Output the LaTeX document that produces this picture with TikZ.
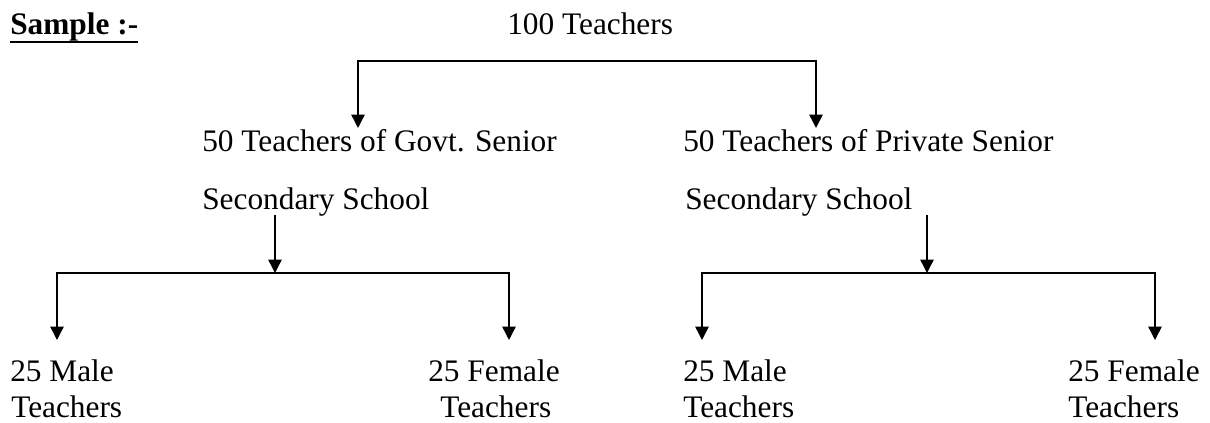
\documentclass[tikz,border=0pt]{standalone}
\usepackage{fontspec}
\setmainfont{Liberation Serif}
\usepackage{tikz}
\usetikzlibrary{arrows.meta,positioning,calc}
\tikzset{
  txt/.style={inner sep=0pt, anchor=base west,
    font=\fontsize{23.5}{28}\selectfont},
  brancharrow/.style={
    -{Triangle[width=10pt,length=10pt]}, line width=1.1pt, color=black
  },
}
\begin{document}
\begin{tikzpicture}[x=0.75pt, y=-0.75pt]
  \useasboundingbox (0,0) rectangle (1210,423);
  % heading
  \node[txt, font=\fontsize{23.5}{28}\selectfont\bfseries] at (10,35) (sample) {Sample :-};
  \draw[line width=2pt] ([yshift=-5.2pt]sample.base west) -- ([yshift=-5.2pt]sample.base east);
  \node[txt] at (507,35) (root) {100 Teachers};
  % second level
  \node[txt] at (202,152) (govt) {50 Teachers of Govt. Senior};
  \node[txt] at (202,210) (govtsub) {Secondary School};
  \node[txt] at (683,152) (pvt) {50 Teachers of Private Senior};
  \node[txt] at (685,210) (pvtsub) {Secondary School};
  % third level
  \node[txt] at (10,382) (gmale) {25 Male};
  \node[txt] at (11,418) (gmalesub) {Teachers};
  \node[txt] at (428,382) (gfemale) {25 Female};
  \node[txt] at (440,418) (gfemalesub) {Teachers};
  \node[txt] at (683,382) (pmale) {25 Male};
  \node[txt] at (683,418) (pmalesub) {Teachers};
  \node[txt] at (1068,382) (pfemale) {25 Female};
  \node[txt] at (1068,418) (pfemalesub) {Teachers};
  % branch points
  \coordinate (split) at (587,61);
  \coordinate (govtin) at (358,128);
  \coordinate (pvtin) at (816,128);
  \coordinate (govtout) at (275,215);
  \coordinate (gsplit) at (275,273);
  \coordinate (pvtout) at (927,215);
  \coordinate (psplit) at (927,273);
  \coordinate (gmalein) at (57,340);
  \coordinate (gfemalein) at (509,340);
  \coordinate (pmalein) at (702,340);
  \coordinate (pfemalein) at (1155,340);
  % connectors
  \draw[brancharrow] (split) -| (govtin);
  \draw[brancharrow] (split) -| (pvtin);
  \draw[brancharrow] (govtout) -- (gsplit);
  \draw[brancharrow] (pvtout) -- (psplit);
  \foreach \t in {gmalein,gfemalein} { \draw[brancharrow] (gsplit) -| (\t); }
  \foreach \t in {pmalein,pfemalein} { \draw[brancharrow] (psplit) -| (\t); }
\end{tikzpicture}
\end{document}
